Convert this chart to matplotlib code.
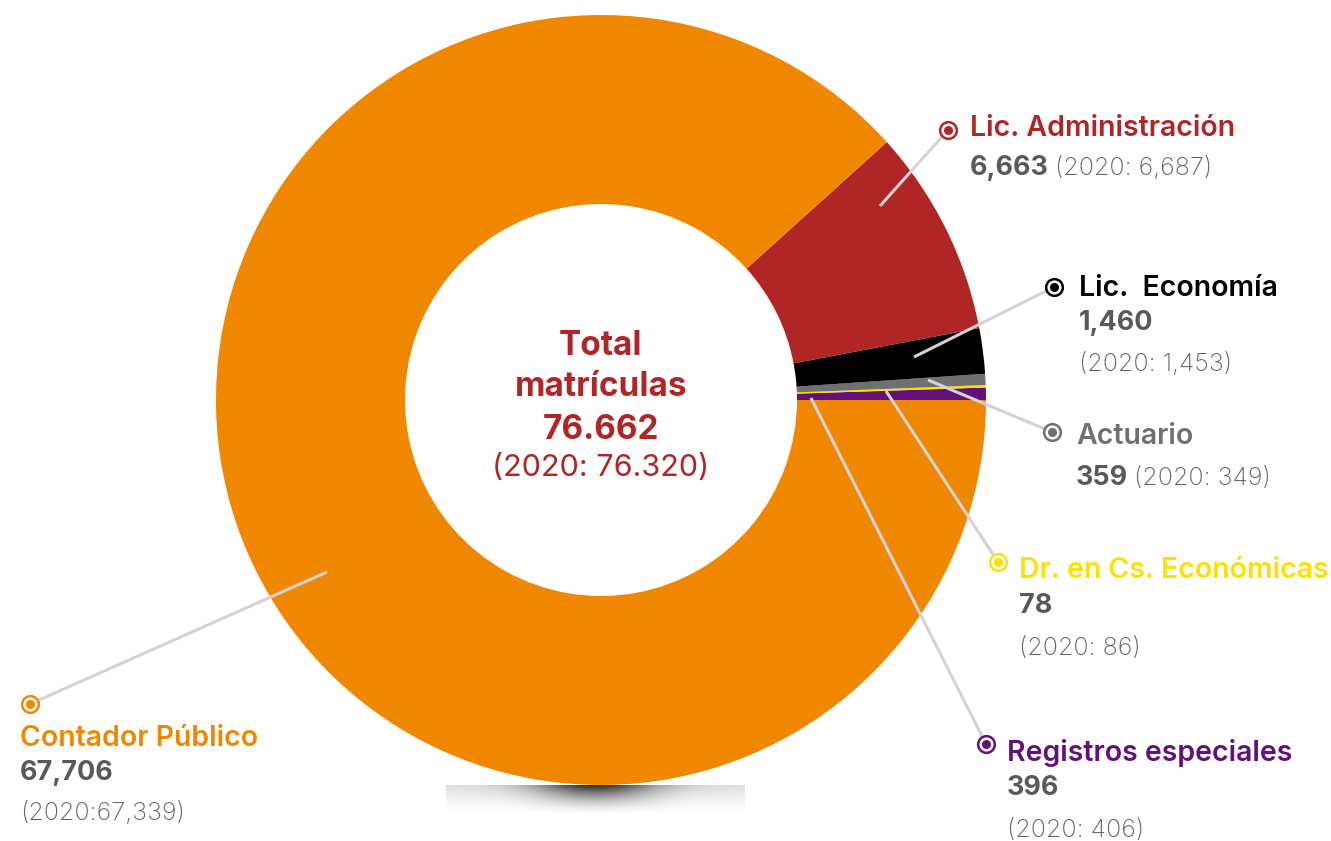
import numpy as np
import matplotlib
matplotlib.use("Agg")
import matplotlib.pyplot as plt

# ---------------- data ----------------
categories = ["Registros especiales", "Dr. en Cs. Económicas", "Actuario",
              "Lic.  Economía", "Lic. Administración", "Contador Público"]
values_2021 = [396, 78, 359, 1460, 6663, 67706]
values_2020 = [406, 86, 349, 1453, 6687, 67339]
value_labels = ["396", "78", "359", "1,460", "6,663", "67,706"]
prev_labels = ["(2020: 406)", "(2020: 86)", "(2020: 349)", "(2020: 1,453)",
               "(2020: 6,687)", "(2020:67,339)"]
colors = ["#63107a", "#ffe100", "#707070", "#000000", "#b02525", "#ef8800"]
center_lines = ["Total", "matrículas", "76.662", "(2020: 76.320)"]

# ---------------- layout ----------------
W, H = 1331, 841
CX, CY, R_OUT, R_IN = 601, 400, 385, 196
FONT = "Inter"
GRAY_NUM = "#595959"
GRAY_LIGHT = "#626262"
LEADER = "#d3d3d3"
DY = 2  # small vertical nudge for text centering

# label layout: (leader start, marker position, text x, title y, number y, prev y, prev on same line)
layout = {
    "Lic. Administración": ((880, 206), (948, 130), 970, 126, 166, 166, True),
    "Lic.  Economía": ((914, 357), (1054, 287), 1079, 286, 321, 362, False),
    "Actuario": ((928, 380), (1052, 432), 1076, 434, 476, 476, True),
    "Dr. en Cs. Económicas": ((886, 391), (998, 562), 1019, 569, 604, 646, False),
    "Registros especiales": ((811, 398), (986, 744), 1007, 751, 786, 828, False),
    "Contador Público": ((327, 572), (30, 704), 20, 736, 771, 811, False),
}

fig = plt.figure(figsize=(W / 100, H / 100), dpi=100)
ax = fig.add_axes([0, 0, 1, 1])
ax.set_xlim(0, W)
ax.set_ylim(H, 0)
ax.axis("off")

# shadow below the donut
sx0, sx1, sy0, sy1 = 446, 745, 785, 815
nx, ny = 300, 60
gx = np.linspace(-1, 1, nx)
gy = np.linspace(0, 1, ny)
GX, GY = np.meshgrid(gx, gy)
alpha = (0.14 + 0.70 * np.exp(-(GX / 0.4) ** 2)) * (1 - GY) ** 1.6
img = np.zeros((ny, nx, 4))
img[..., 3] = alpha
ax.imshow(img, extent=(sx0, sx1, sy1, sy0), aspect="auto", zorder=0,
          interpolation="bilinear")

# donut (y axis inverted -> counterclock=False draws counter-clockwise on screen)
ax.pie(values_2021, colors=colors, startangle=0, counterclock=False,
       radius=R_OUT, center=(CX, CY),
       wedgeprops=dict(width=R_OUT - R_IN, linewidth=0), frame=True)
ax.set_xlim(0, W)
ax.set_ylim(H, 0)
ax.axis("off")

# center text
center_y = [343, 384, 427, 465]
center_w = ["bold", "bold", "bold", "normal"]
center_s = [24, 24, 24, 22]
for txt, y, w, s in zip(center_lines, center_y, center_w, center_s):
    ax.text(CX, y + DY + 0.5, txt, ha="center", va="center", color="#b02525",
            fontsize=s, fontweight=w, family=FONT)

# labels
pending = []
for cat, col, vlab, plab in zip(categories, colors, value_labels, prev_labels):
    (lx, ly), (mx, my), tx, ty, ny_, py, same = layout[cat]
    ax.plot([lx, mx], [ly, my], color=LEADER, lw=2.2, zorder=3,
            solid_capstyle="butt")
    ax.plot([mx], [my], marker="o", ms=12, mfc="white", mec=col, mew=1.8,
            zorder=4)
    ax.plot([mx], [my], marker="o", ms=5.5, mfc=col, mec=col, zorder=5)
    ax.text(tx, ty + DY, cat, ha="left", va="center", color=col, fontsize=20.5,
            fontweight="semibold", family=FONT)
    t_num = ax.text(tx, ny_ + DY, vlab, ha="left", va="center", color=GRAY_NUM,
                    fontsize=19.4, fontweight="bold", family=FONT)
    if same:
        pending.append((t_num, ny_ + DY, plab))
    else:
        ax.text(tx, py + DY, plab, ha="left", va="center", color=GRAY_LIGHT,
                fontsize=18, fontweight="light", family=FONT)

fig.canvas.draw()
renderer = fig.canvas.get_renderer()
inv = ax.transData.inverted()
for t_num, y, plab in pending:
    bb = t_num.get_window_extent(renderer)
    x_end = inv.transform((bb.x1, bb.y0))[0]
    ax.text(x_end + 6, y, plab, ha="left", va="center", color=GRAY_LIGHT,
            fontsize=18, fontweight="light", family=FONT)

fig.savefig("out.png", dpi=100, facecolor="white")
